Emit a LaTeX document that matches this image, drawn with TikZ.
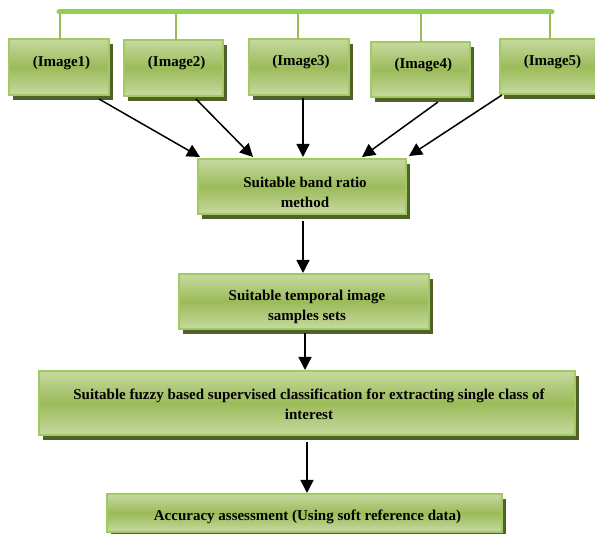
\documentclass[tikz,border=0pt]{standalone}
\usepackage{fontspec}
\setmainfont{Liberation Serif}
\usetikzlibrary{arrows.meta,shadows}
\definecolor{lightg}{HTML}{C6D9A0}
\definecolor{darkg}{HTML}{9BBB59}
\definecolor{edgeg}{HTML}{A3C962}
\definecolor{shadowg}{HTML}{4F6228}
\definecolor{barg}{HTML}{92D050}
\tikzset{
  gbox/.style={draw=edgeg, line width=1.6pt, top color=lightg, bottom color=lightg, middle color=darkg,
    general shadow={fill=shadowg, shadow xshift=3.5pt, shadow yshift=-5pt},
    inner sep=0pt, outer sep=0pt},
  txt/.style={font=\bfseries\fontsize{15}{20}\selectfont, align=center, inner sep=0pt},
  arr/.style={line width=1.5pt, -{Triangle[length=13pt,width=13pt]}},
  vconn/.style={draw=darkg, line width=2pt},
  topbar/.style={draw=barg, line width=5pt, line cap=round}
}
\begin{document}
\begin{tikzpicture}[x=1pt,y=-1pt]
\clip (0,0) rectangle (595,534);
\fill[white] (0,0) rectangle (595,534);
% image boxes
\node[gbox, minimum width=100pt, minimum height=56pt] (b1) at (59,67) {};
\node[gbox, minimum width=99pt, minimum height=56pt] (b2) at (173.5,68) {};
\node[gbox, minimum width=100pt, minimum height=56pt] (b3) at (299,67) {};
\node[gbox, minimum width=99pt, minimum height=55pt] (b4) at (420.5,69.5) {};
\node[gbox, minimum width=104pt, minimum height=55pt] (b5) at (552,66.5) {};
\node[txt] (t1) at (61.5,63) {(Image1)};
\node[txt] (t2) at (176.7,63) {(Image2)};
\node[txt] (t3) at (301,62) {(Image3)};
\node[txt] (t4) at (423.3,65) {(Image4)};
\node[txt] (t5) at (552.5,62) {(Image5)};
% top bar
\coordinate (barL) at (59,12);
\coordinate (barR) at (552,12);
\draw[vconn] (b1.north -| 60,0) |- (barL);
\draw[vconn] ([xshift=2.5pt]b2.north) -- ([xshift=2.5pt]b2.north |- barL);
\draw[vconn] ([xshift=-1pt]b3.north) -- ([xshift=-1pt]b3.north |- barL);
\draw[vconn] ([xshift=0.5pt]b4.north) -- ([xshift=0.5pt]b4.north |- barL);
\draw[vconn] ([xshift=-2pt]b5.north) -- ([xshift=-2pt]b5.north |- barR);
\draw[topbar] (barL) -- (barR);
% process boxes
\node[gbox, minimum width=208pt, minimum height=55pt] (band) at (302,186.5) {};
\node[txt] (tband) at (305,192) {Suitable band ratio\\method};
\node[gbox, minimum width=250pt, minimum height=55pt] (temp) at (304,301.5) {};
\node[txt] (ttemp) at (307,307) {Suitable temporal image\\samples sets};
\node[gbox, minimum width=536pt, minimum height=64pt] (fuzzy) at (307,403) {};
\node[txt] (tfuzzy) at (309,404) {Suitable fuzzy based supervised classification for extracting single class of\\interest};
\node[gbox, minimum width=395pt, minimum height=38pt] (acc) at (304.5,513) {};
\node[txt] (tacc) at (307.5,517) {Accuracy assessment (Using soft reference data)};
% arrows
\draw[arr] ([xshift=-10pt,yshift=-4pt]b1.south east) -- ([xshift=2pt,yshift=2pt]band.north west);
\draw[arr] ([xshift=22.5pt,yshift=-3pt]b2.south) -- ([xshift=-49pt,yshift=2pt]band.north);
\draw[arr] ([xshift=4pt,yshift=-3pt]b3.south) -- ([xshift=1pt,yshift=2pt]band.north);
\draw[arr] ([xshift=17.5pt,yshift=-5pt]b4.south) -- ([xshift=60pt,yshift=2pt]band.north);
\draw[arr] ([xshift=2pt,yshift=-1pt]b5.south west) -- ([xshift=3pt,yshift=3pt]band.north east);
\draw[arr] ([xshift=1pt,yshift=-7pt]band.south) -- ([xshift=-1pt,yshift=1pt]temp.north);
\draw[arr] ([xshift=1pt,yshift=-4pt]temp.south) -- ([xshift=-2pt,yshift=1pt]fuzzy.north);
\draw[arr] ([yshift=-7pt]fuzzy.south) -- ([xshift=2.5pt,yshift=1pt]acc.north);
\end{tikzpicture}
\end{document}
